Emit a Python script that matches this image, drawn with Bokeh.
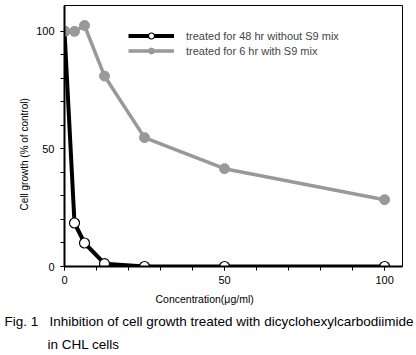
from bokeh.plotting import figure
from bokeh.models import FixedTicker, Legend, LegendItem, Range1d, Title
from bokeh.embed import file_html
from bokeh.resources import INLINE

# Data
conc = [0, 3.125, 6.25, 12.5, 25, 50, 100]
growth_48h = [100, 18.5, 10, 1.2, 0, 0, 0]
growth_6h_s9 = [100, 100, 102.5, 81, 54.8, 41.6, 28.4]
series_names = ["treated for 48 hr without S9 mix", "treated for 6 hr with S9 mix"]
x_ticks = [0, 50, 100]
y_ticks = [0, 50, 100]
minor = [0, 10, 20, 30, 40, 50, 60, 70, 80, 90, 100]

FONT = "Liberation Sans"

p = figure(width=416, height=355, output_backend="svg", toolbar_location=None,
           x_range=Range1d(0, 105.6), y_range=Range1d(0, 111.0),
           min_border_left=64, min_border_right=14, min_border_top=5, min_border_bottom=89)
p.grid.visible = False
p.outline_line_color = "black"
p.outline_line_width = 1
p.background_fill_color = "white"

for ax, ticks in ((p.xaxis[0], x_ticks), (p.yaxis[0], y_ticks)):
    ax.ticker = FixedTicker(ticks=ticks, minor_ticks=minor)
    ax.axis_line_width = 2
    ax.axis_line_color = "black"
    ax.major_tick_in = 0
    ax.major_tick_out = 4
    ax.minor_tick_in = 0
    ax.minor_tick_out = 4
    ax.major_tick_line_width = 1
    ax.minor_tick_line_width = 1
    ax.major_label_text_font = FONT
    ax.major_label_text_font_size = "11px"
    ax.major_label_text_color = "black"
p.xaxis.major_label_standoff = 5
p.yaxis.major_label_standoff = 6

r1 = p.line(conc, growth_48h, line_color="black", line_width=4)
c1 = p.scatter(conc, growth_48h, size=10, fill_color="white", line_color="black", line_width=1.2)
r2 = p.line(conc, growth_6h_s9, line_color="#999999", line_width=3.5)
c2 = p.scatter(conc, growth_6h_s9, size=10, fill_color="#999999", line_color="#999999")

legend = Legend(items=[LegendItem(label=series_names[0], renderers=[r1, c1]),
                       LegendItem(label=series_names[1], renderers=[r2, c2])],
                location=(64, 208), padding=0, margin=0, spacing=0,
                glyph_width=46, glyph_height=15, label_height=15, label_standoff=12,
                label_text_font=FONT, label_text_font_size="11px",
                border_line_alpha=0, background_fill_alpha=0)
p.add_layout(legend, "center")

def title(text, place, size, offset, standoff):
    p.add_layout(Title(text=text, align="left", offset=offset, standoff=standoff,
                       text_font=FONT, text_font_size=size, text_font_style="normal",
                       text_color="black"), place)

title("Cell growth (% of control)", "left", "10px", 56, 8)
title("Concentration(\u03bcg/ml)", "below", "10.5px", 91, 8)
title("Fig. 1\u00a0\u00a0\u00a0Inhibition of cell growth treated with dicyclohexylcarbodiimide",
      "below", "13.5px", -60, 6)
title("in CHL cells", "below", "13.5px", -17, 6)

open("out.html", "w").write(file_html(p, INLINE))
